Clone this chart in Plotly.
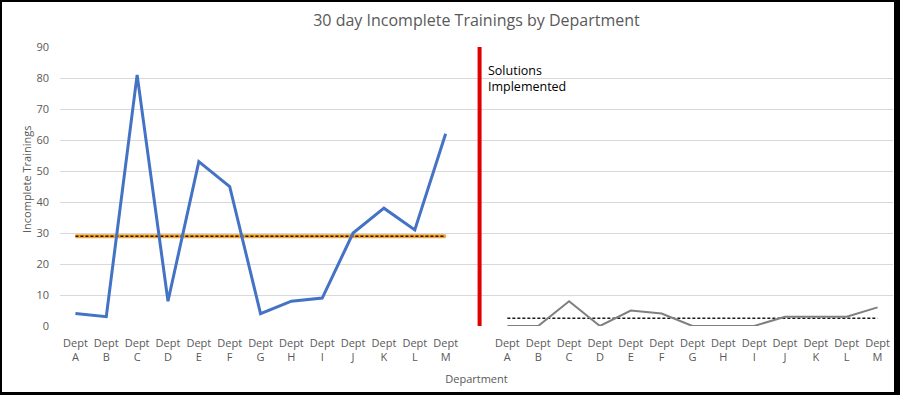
import plotly.graph_objects as go

depts = ["A", "B", "C", "D", "E", "F", "G", "H", "I", "J", "K", "L", "M"]
before = [4, 3, 81, 8, 53, 45, 4, 8, 9, 30, 38, 31, 62]
after = [0, 0, 8, 0, 5, 4, 0, 0, 0, 3, 3, 3, 6]
before_mean = sum(before) / len(before)
after_mean = sum(after) / len(after)
y_ticks = [0, 10, 20, 30, 40, 50, 60, 70, 80, 90]

n = len(depts)
x_before = list(range(n))
gap = n
x_after = [gap + 1 + i for i in range(n)]
tick_text = ["Dept<br>" + d for d in depts]

font = "Open Sans, Liberation Sans, sans-serif"
gray_txt = "#595959"

fig = go.Figure()

# mean lines (left): orange under black dashed
fig.add_trace(go.Scatter(x=[x_before[0], x_before[-1]], y=[before_mean, before_mean],
                         mode="lines", line=dict(color="#F2A531", width=4),
                         hoverinfo="skip", showlegend=False))
fig.add_trace(go.Scatter(x=[x_before[0], x_before[-1]], y=[before_mean, before_mean],
                         mode="lines", line=dict(color="#1a1a1a", width=1.5, dash="3px,2px"),
                         hoverinfo="skip", showlegend=False))
fig.add_trace(go.Scatter(x=x_before, y=before, mode="lines",
                         line=dict(color="#4472C4", width=3), showlegend=False))

# right side
fig.add_trace(go.Scatter(x=[x_after[0], x_after[-1]], y=[after_mean, after_mean],
                         mode="lines", line=dict(color="#1a1a1a", width=1.5, dash="3px,2px"),
                         hoverinfo="skip", showlegend=False))
fig.add_trace(go.Scatter(x=x_after, y=after, mode="lines",
                         line=dict(color="#7F7F7F", width=2), showlegend=False))

# solutions implemented marker
fig.add_trace(go.Scatter(x=[gap + 0.1, gap + 0.1], y=[0, 90.5], mode="lines",
                         line=dict(color="#E00000", width=4), showlegend=False))

fig.add_annotation(x=gap + 0.3, y=80, xref="x", yref="y", xanchor="left", yanchor="middle",
                   text="Solutions<br>Implemented", showarrow=False, align="left",
                   font=dict(family=font, size=12.5, color="#000000"))

# black frame around the image
W, H = 900, 395
ml, mr, mt, mb = 60, 7, 47, 69
pw, ph = W - ml - mr, H - mt - mb
def px(x):
    return (x - ml) / pw
def py(y):
    return 1 - (y - mt) / ph
for (x0, y0, x1, y1) in [(0, 0, 2, H), (0, 0, W, 2), (894, 0, W, H), (0, 392, W, H)]:
    fig.add_shape(type="rect", xref="paper", yref="paper",
                  x0=px(x0), x1=px(x1), y0=py(y1), y1=py(y0),
                  fillcolor="black", line=dict(width=0), layer="above")

# y-axis title
fig.add_annotation(x=px(27), y=py(180), xref="paper", yref="paper",
                   xanchor="center", yanchor="middle", textangle=-90,
                   text="Incomplete Trainings", showarrow=False,
                   font=dict(family=font, size=11, color=gray_txt))

fig.update_layout(
    width=W, height=H,
    margin=dict(l=ml, r=mr, t=mt, b=mb),
    paper_bgcolor="white", plot_bgcolor="white",
    title=dict(text="30 day Incomplete Trainings by Department", x=0.5, xref="paper",
               y=1 - 20 / H, yanchor="middle",
               font=dict(family=font, size=16, color=gray_txt)),
    font=dict(family=font, size=11, color=gray_txt),
    xaxis=dict(range=[-0.5, 2 * n + 0.5], tickmode="array",
               tickvals=x_before + x_after, ticktext=tick_text + tick_text,
               showgrid=False, zeroline=False, showline=False, ticks="",
               ticklabelstandoff=9,
               tickfont=dict(size=11, color=gray_txt),
               title=dict(text="Department", font=dict(size=11, color=gray_txt), standoff=12)),
    yaxis=dict(range=[0, 90], tickmode="array", tickvals=y_ticks,
               showgrid=True, gridcolor="#D9D9D9", gridwidth=1, zeroline=False,
               showline=False, ticks="", ticklabelstandoff=10,
               tickfont=dict(size=11, color=gray_txt)),
)

fig.write_html("out.html", config={"displayModeBar": False},
               post_script="document.body.style.margin='0';document.body.style.overflow='hidden';")
